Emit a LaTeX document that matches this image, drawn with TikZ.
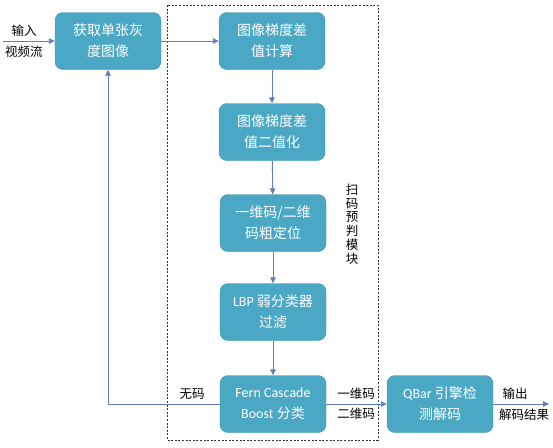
\documentclass[tikz,border=0pt]{standalone}
\usepackage{fontspec}
\setmainfont{Carlito}
\newfontfamily\cjk{Noto Sans CJK SC}
\usetikzlibrary{arrows.meta}
\definecolor{boxfill}{HTML}{4BA8C4}
\definecolor{arrowc}{HTML}{5F7FB8}
\tikzset{
  x=1pt,y=-1pt,
  proc/.style={draw=boxfill!85!black, line width=0.4pt, fill=boxfill, rounded corners=8pt,
    minimum width=106pt, minimum height=57pt, text=white, align=center,
    font=\fontsize{14}{21}\selectfont\cjk, inner sep=2pt},
  conn/.style={draw=arrowc, line width=0.9pt, -{Triangle[length=6pt,width=5.5pt]}},
  lbl/.style={font=\fontsize{12.5}{15}\selectfont\cjk, text=black, inner sep=0pt},
  frame/.style={draw=black!80, line width=0.9pt, dash pattern=on 2pt off 1.6pt}
}
\begin{document}
\begin{tikzpicture}
\useasboundingbox (0,0) rectangle (553,447);
\fill[white] (0,0) rectangle (553,447);
\draw[frame] (167,5) rectangle (378,440);
\node[proc] (b1) at (108,41) {获取单张灰\\度图像};
\node[proc] (b2) at (272,41) {图像梯度差\\值计算};
\node[proc] (b3) at (272,132) {图像梯度差\\值二值化};
\node[proc] (b4) at (273,223) {一维码/二维\\码粗定位};
\node[proc] (b5) at (273,312) {{\fontspec{Carlito}LBP} 弱分类器\\过滤};
\node[proc] (b6) at (273,404) {{\fontspec{Carlito}Fern Cascade}\\{\fontspec{Carlito}Boost} 分类};
\node[proc] (b7) at (440,404) {{\fontspec{Carlito}QBar} 引擎检\\测解码};
\coordinate (in) at (3,41);
\coordinate (out) at (549,404);
\coordinate (corner) at (108,404);
\draw[conn] (in) -- (b1);
\draw[conn] (b1) -- (b2);
\draw[conn] (b2) -- (b3);
\draw[conn] (b3) -- (b4);
\draw[conn] (b4) -- (b5);
\draw[conn] (b5) -- (b6);
\draw[conn] (b6) -- (b7);
\draw[conn] (b7) -- (out);
\draw[conn] (b6.west) -- (corner) -- (b1.south);
\node[lbl] (t1) at (24,31) {输入};
\node[lbl] (t2) at (24,52) {视频流};
\node[lbl] (t3) at (192,394) {无码};
\node[lbl] (t4) at (356,394) {一维码};
\node[lbl] (t5) at (356,414) {二维码};
\node[lbl] (t6) at (515,394) {输出};
\node[lbl] (t7) at (524,415) {解码结果};
\node[lbl, align=center, font=\fontsize{12.5}{13.8}\selectfont\cjk] (t8) at (352,224) {扫\\码\\预\\判\\模\\块};
\end{tikzpicture}
\end{document}
